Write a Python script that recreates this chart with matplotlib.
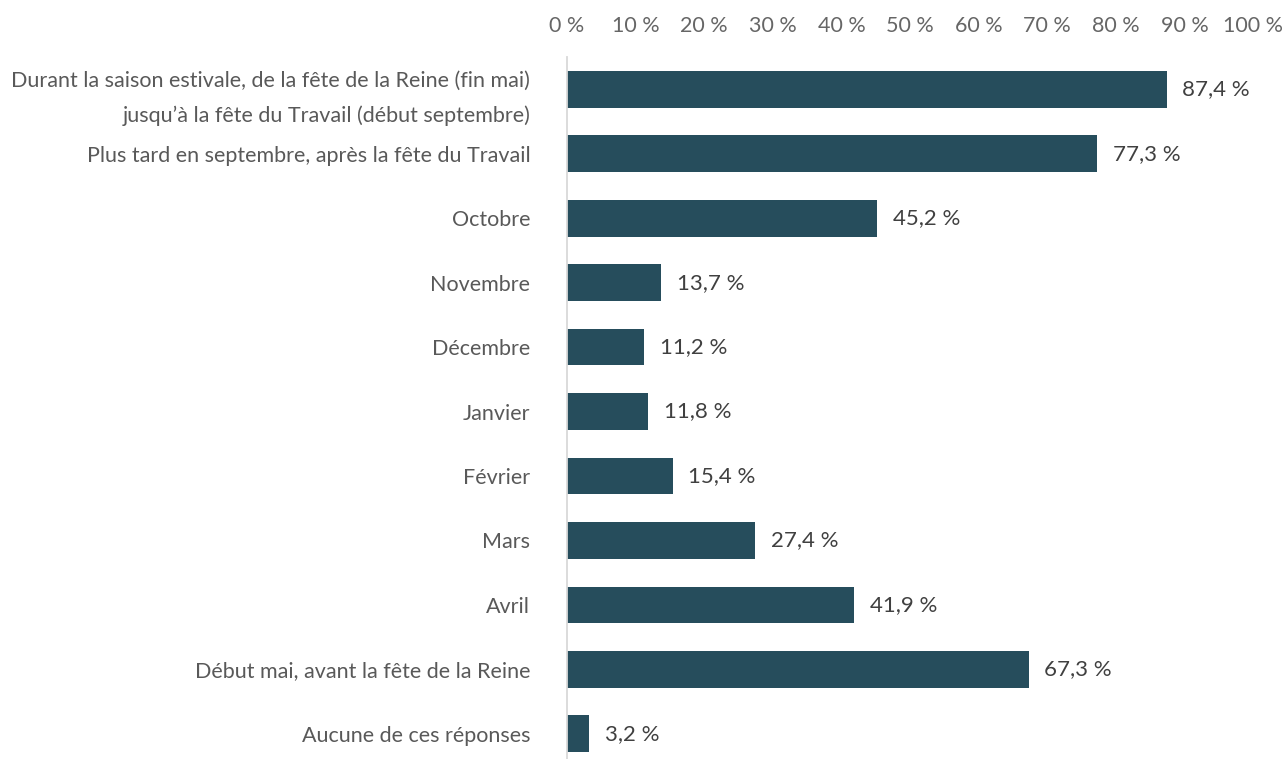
import matplotlib
matplotlib.use("Agg")
import matplotlib.pyplot as plt
from matplotlib.ticker import FuncFormatter

categories = [
    "Durant la saison estivale, de la fête de la Reine (fin mai)\njusqu’à la fête du Travail (début septembre)",
    "Plus tard en septembre, après la fête du Travail",
    "Octobre",
    "Novembre",
    "Décembre",
    "Janvier",
    "Février",
    "Mars",
    "Avril",
    "Début mai, avant la fête de la Reine",
    "Aucune de ces réponses",
]
values = [87.4, 77.3, 45.2, 13.7, 11.2, 11.8, 15.4, 27.4, 41.9, 67.3, 3.2]
ticks = list(range(0, 101, 10))

plt.rcParams['font.family'] = ['Lato', 'DejaVu Sans']

fig = plt.figure(figsize=(12.87, 7.59), dpi=100)
ax = fig.add_axes([567 / 1287, 0, (1253 - 567) / 1287, 1 - 57 / 759])

ypos = list(range(len(categories)))
ax.barh(ypos, values, height=0.57, color="#264d5c")
for y, v in zip(ypos, values):
    ax.text(v + 2.3, y, f"{v:.1f} %".replace(".", ","), va="center", ha="left",
            fontsize=16, color="#404040")

ax.set_xlim(0, 100)
ax.set_ylim(10.39, -0.5)
ax.set_xticks(ticks)
ax.xaxis.set_major_formatter(FuncFormatter(lambda x, p: f"{int(x)} %"))
ax.xaxis.tick_top()
ax.tick_params(axis="x", length=0, pad=15, labelsize=15.5, labelcolor="#666666")
ax.set_yticks(ypos)
ax.set_yticklabels(categories, fontsize=15.5, color="#595959", linespacing=1.85)
ax.tick_params(axis="y", length=0, pad=26.5)
for s in ["top", "right", "bottom"]:
    ax.spines[s].set_visible(False)
ax.spines["left"].set_color("#d9d9d9")
ax.spines["left"].set_linewidth(1.3)

fig.savefig("out.png", dpi=100)
